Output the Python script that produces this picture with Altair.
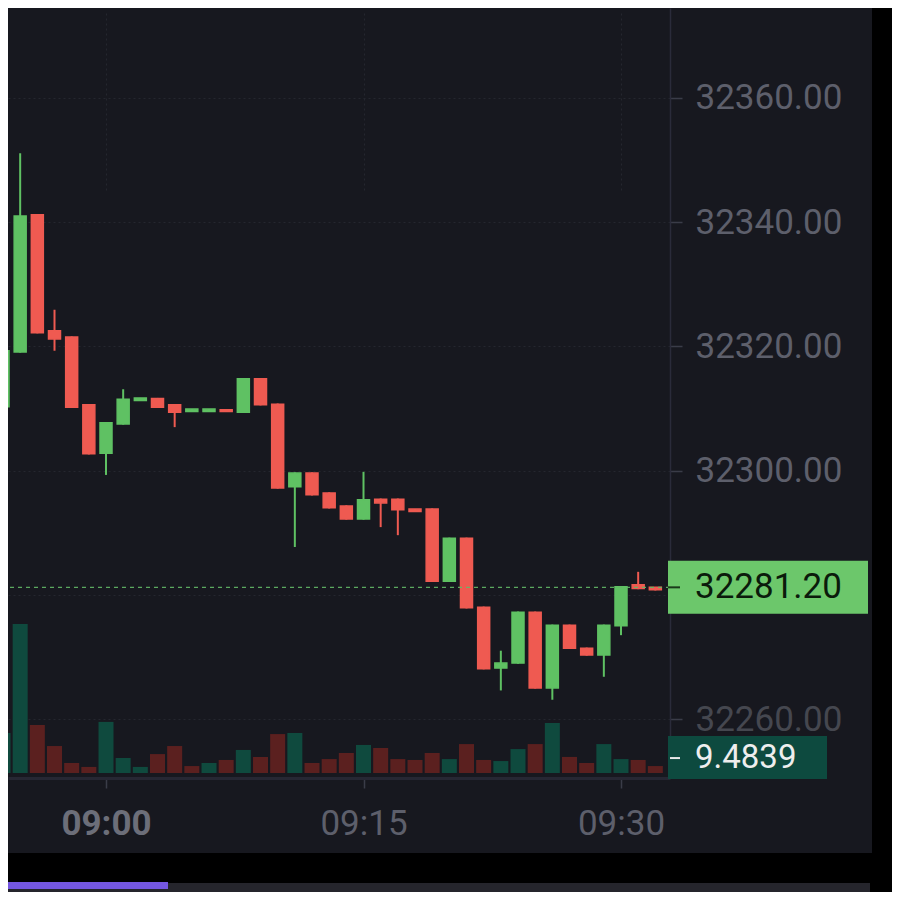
import altair as alt
import pandas as pd

# ---------------- data ----------------
times = ["08:54", "08:55", "08:56", "08:57", "08:58", "08:59",
         "09:00", "09:01", "09:02", "09:03", "09:04", "09:05", "09:06", "09:07",
         "09:08", "09:09", "09:10", "09:11", "09:12", "09:13", "09:14", "09:15",
         "09:16", "09:17", "09:18", "09:19", "09:20", "09:21", "09:22", "09:23",
         "09:24", "09:25", "09:26", "09:27", "09:28", "09:29", "09:30", "09:31", "09:32"]

opens = [32310.3, 32319.1, 32341.2, 32322.5, 32321.5, 32310.6,
         32302.8, 32307.5, 32311.3, 32311.6, 32310.6, 32309.5, 32309.5, 32309.8,
         32309.4, 32314.8, 32310.7, 32297.4, 32299.6, 32296.4, 32294.3, 32292.2,
         32295.4, 32295.4, 32293.8, 32293.8, 32282.2, 32289.1, 32278.0, 32268.2,
         32269.0, 32277.2, 32265.0, 32275.1, 32271.4, 32270.3, 32275.0, 32281.6, 32281.2]

closes = [32319.3, 32341.0, 32322.2, 32321.2, 32310.2, 32302.7,
          32307.7, 32311.5, 32311.7, 32310.2, 32309.4, 32309.9, 32309.9, 32309.5,
          32314.8, 32310.6, 32297.2, 32299.6, 32296.1, 32294.0, 32292.2, 32295.3,
          32294.8, 32293.7, 32293.4, 32282.2, 32289.1, 32277.9, 32268.1, 32269.0,
          32277.2, 32265.0, 32275.1, 32271.4, 32270.3, 32275.1, 32281.3, 32281.0, 32280.8]

highs = [32319.4, 32351.1, 32341.3, 32325.9, 32321.6, 32310.7,
         32307.8, 32313.1, 32311.7, 32311.7, 32310.7, 32309.9, 32309.9, 32309.8,
         32314.9, 32314.9, 32310.8, 32299.7, 32299.7, 32296.5, 32294.4, 32299.8,
         32295.5, 32295.5, 32293.8, 32293.9, 32289.2, 32289.2, 32278.1, 32271.0,
         32277.3, 32277.3, 32275.2, 32275.2, 32271.5, 32275.2, 32281.4, 32283.7, 32281.2]

lows = [32310.2, 32319.0, 32322.1, 32319.3, 32310.1, 32302.6,
        32299.3, 32307.4, 32311.3, 32310.1, 32307.0, 32309.5, 32309.5, 32309.5,
        32309.3, 32310.5, 32297.1, 32287.7, 32296.0, 32293.9, 32292.1, 32292.1,
        32290.9, 32289.6, 32293.4, 32282.1, 32282.1, 32277.8, 32268.0, 32264.6,
        32268.9, 32264.9, 32263.1, 32271.3, 32270.2, 32266.8, 32273.5, 32280.9, 32280.7]

volumes = [22.4, 83.4, 26.9, 15.1, 5.6, 3.4,
           28.6, 8.4, 3.4, 10.6, 15.1, 3.9, 5.6, 7.3,
           12.9, 9.0, 21.8, 22.4, 5.6, 7.8, 11.2, 15.7,
           14.0, 7.8, 7.3, 11.2, 7.8, 16.2, 7.3, 6.7,
           13.4, 16.2, 28.0, 9.0, 5.6, 16.2, 7.8, 7.3, 3.9]

vol_dir = ["up", "up", "down", "down", "down", "down",
           "up", "up", "up", "down", "down", "down", "up", "down",
           "up", "down", "down", "up", "down", "down", "down", "up",
           "down", "down", "down", "down", "up", "down", "down", "up",
           "up", "down", "up", "down", "down", "up", "up", "down", "down"]

price_ticks = [32260, 32280, 32300, 32320, 32340, 32360]
time_ticks = ["09:00", "09:15", "09:30"]
last_price = 32281.20
last_volume = 9.4839

# ---------------- styling ----------------
PANEL = "#17181f"
GREEN = "#5fc163"
RED = "#ef5a51"
VOL_G = "#0f4a3e"
VOL_R = "#5b201f"
TAG_G = "#6cc76b"
VTAG = "#0d4a3f"
LABEL = "#5d5f6b"
GRID = "#25262f"
FONT = "Roboto"


def to_min(t):
    h, m = t.split(":")
    return int(h) * 60 + int(m) - 9 * 60


df = pd.DataFrame({
    "m": [to_min(t) for t in times],
    "open": opens, "close": closes, "high": highs, "low": lows,
    "vol": volumes, "vdir": vol_dir,
})

W, H = 662, 770
X_DOMAIN = [-5.709, 32.854]
Y_DOMAIN = [32250.5, 32374.49]
V_DOMAIN = [0, 100]
V_RANGE = [765, 586.4]

x_axis = alt.Axis(
    values=[to_min(t) for t in time_ticks],
    labelExpr="timeFormat(datetime(2000, 0, 1, 9, datum.value), '%H:%M')",
    title=None, grid=True, gridColor=GRID, gridDash=[2, 3], gridWidth=1,
    domainColor="#262733", domainWidth=3, tickColor="#3a3c48", tickSize=10,
    tickWidth=1.5, labelFont=FONT, labelFontSize=35,
    labelColor={"expr": f"datum.value == 0 ? '#6c6e79' : '{LABEL}'"},
    labelFontWeight={"expr": "datum.value == 0 ? 'bold' : 'normal'"},
    labelPadding=18, labelBaseline="top",
)
X = alt.X("m:Q", scale=alt.Scale(domain=X_DOMAIN, nice=False, zero=False, padding=0),
          axis=x_axis)

y_axis = alt.Axis(
    orient="right", values=price_ticks, title=None,
    labelExpr=f"abs(datum.value - {last_price}) < 8 ? '' : format(datum.value, '.2f')",
    grid=True, gridColor=GRID, gridDash=[2, 3], gridWidth=1,
    domainColor="#2a2b3a", domainWidth=1.5, tickColor="#3a3c48", tickSize=12,
    tickWidth=1.5, labelFont=FONT, labelFontSize=35,
    labelColor={"expr": f"datum.value == 32260 ? '#45474f' : '{LABEL}'"},
    labelPadding=13, labelAlign="left", labelBaseline="middle",
)
PSCALE = alt.Scale(domain=Y_DOMAIN, nice=False, zero=False, padding=0)
VSCALE = alt.Scale(domain=V_DOMAIN, range=V_RANGE, nice=False, zero=True, padding=0)

candle_color = alt.condition("datum.close >= datum.open", alt.value(GREEN), alt.value(RED))

base = alt.Chart(df)

wicks = base.mark_rule(strokeWidth=2).encode(
    x=X,
    y=alt.Y("low:Q", scale=PSCALE, axis=y_axis),
    y2="high:Q",
    color=candle_color,
)

bodies = base.mark_bar(width=12, strokeWidth=1.5).encode(
    x=X,
    y=alt.Y("open:Q", scale=PSCALE, axis=y_axis),
    y2="close:Q",
    fill=candle_color,
    stroke=candle_color,
)

one = alt.Chart(pd.DataFrame({"k": [0]}))

last_line = one.mark_rule(color="#63b866", strokeDash=[4, 4], strokeWidth=1.2, opacity=0.9).encode(
    y=alt.Y(datum=last_price, scale=PSCALE, axis=y_axis),
)

price_tag = one.mark_rect(color=TAG_G, yOffset=-26.5, y2Offset=26.5).encode(
    x=alt.value(660), x2=alt.value(860),
    y=alt.Y(datum=last_price, scale=PSCALE, axis=y_axis),
    y2=alt.Y2(datum=last_price),
)
price_tick = one.mark_rule(color="#1b3a1b", strokeWidth=2).encode(
    x=alt.value(660), x2=alt.value(672),
    y=alt.Y(datum=last_price, scale=PSCALE, axis=y_axis),
)
price_text = one.mark_text(align="left", baseline="middle", font=FONT, fontSize=35,
                           color="#0b1b0b").encode(
    x=alt.value(687),
    y=alt.Y(datum=last_price, scale=PSCALE, axis=y_axis),
    text=alt.value(f"{last_price:.2f}"),
)

price_layer = alt.layer(wicks, bodies, last_line, price_tag, price_tick, price_text)

vol_bars = base.mark_bar(width=15).encode(
    x=X,
    y=alt.Y("vol:Q", scale=VSCALE, axis=None),
    color=alt.Color("vdir:N", scale=alt.Scale(domain=["up", "down"], range=[VOL_G, VOL_R]),
                    legend=None),
)
vol_tag = one.mark_rect(color=VTAG, yOffset=-20, y2Offset=23).encode(
    x=alt.value(660), x2=alt.value(819),
    y=alt.Y(datum=last_volume, scale=VSCALE, axis=None),
    y2=alt.Y2(datum=last_volume),
)
vol_tick = one.mark_rule(color="#e8e8e8", strokeWidth=2).encode(
    x=alt.value(662), x2=alt.value(672),
    y=alt.Y(datum=last_volume, scale=VSCALE, axis=None),
    yOffset=alt.value(2),
)
vol_text = one.mark_text(align="left", baseline="middle", font=FONT, fontSize=33,
                         color="#eeeeee", dy=2).encode(
    x=alt.value(687),
    y=alt.Y(datum=last_volume, scale=VSCALE, axis=None),
    text=alt.value(f"{last_volume}"),
)

vol_layer = alt.layer(vol_bars, vol_tag, vol_tick, vol_text)

# frame decoration outside the chart panel
right_strip = one.mark_rect(color="#000000").encode(
    x=alt.value(864), x2=alt.value(884), y=alt.value(0), y2=alt.value(884))
bottom_strip = one.mark_rect(color="#000000").encode(
    x=alt.value(0), x2=alt.value(884), y=alt.value(845), y2=alt.value(884))
grey_bar = one.mark_rect(color="#25252c").encode(
    x=alt.value(0), x2=alt.value(862), y=alt.value(875), y2=alt.value(884))
purple_bar = one.mark_rect(color="#7457e0").encode(
    x=alt.value(0), x2=alt.value(160), y=alt.value(874), y2=alt.value(881))

chart = alt.layer(
    vol_layer, price_layer, right_strip, bottom_strip, grey_bar, purple_bar
).resolve_scale(
    y="independent"
).properties(
    width=W, height=H,
    autosize=alt.AutoSizeParams(type="none"),
    padding={"left": 0, "top": 0, "right": 222, "bottom": 114},
    background=PANEL,
).configure_view(stroke=None)

chart.save("out.html", embed_options={"renderer": "svg", "actions": False})
